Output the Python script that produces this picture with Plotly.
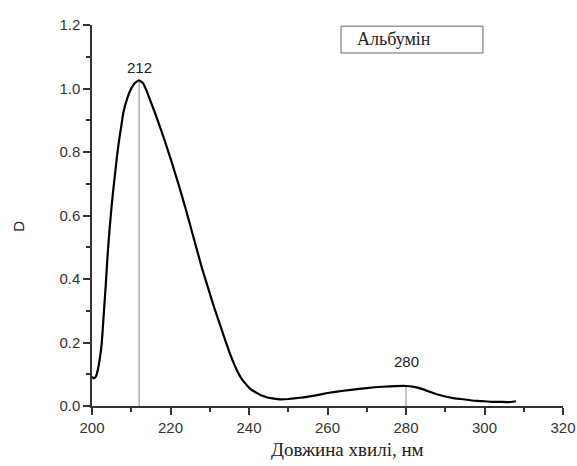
import numpy as np
import plotly.graph_objects as go

# Spectrum data (wavelength, nm ; optical density D)
wavelength = [200.0, 200.5, 201.0, 201.5, 202.0, 202.5, 203.0, 203.5, 204.0, 204.5,
              205.0, 205.5, 206.0, 206.5, 207.0, 207.5, 208.0, 209.0, 210.0, 211.0,
              212.0, 213.0, 214.0, 215.0, 216.0, 217.0, 218.0, 219.0, 220.0, 221.0,
              222.0, 223.0, 224.0, 225.0, 226.0, 227.0, 228.0, 229.0, 230.0, 231.0,
              232.0, 233.0, 234.0, 235.0, 236.0, 237.0, 238.0, 239.0, 240.0, 241.0,
              242.0, 243.0, 244.0, 245.0, 246.0, 248.0, 250.0, 253.0, 256.0, 260.0,
              264.0, 268.0, 272.0, 276.0, 280.0, 282.0, 284.0, 286.0, 288.0, 290.0,
              292.0, 294.0, 296.0, 298.0, 300.0, 302.0, 304.0, 306.0, 308.0]
density = [0.092, 0.087, 0.093, 0.115, 0.150, 0.200, 0.290, 0.380, 0.480, 0.560,
           0.630, 0.690, 0.745, 0.800, 0.845, 0.885, 0.925, 0.970, 1.000, 1.018,
           1.026, 1.017, 0.990, 0.957, 0.925, 0.890, 0.855, 0.818, 0.780, 0.740,
           0.700, 0.658, 0.615, 0.570, 0.525, 0.480, 0.435, 0.395, 0.355, 0.315,
           0.278, 0.242, 0.205, 0.170, 0.138, 0.110, 0.088, 0.072, 0.058, 0.048,
           0.041, 0.034, 0.030, 0.026, 0.024, 0.021, 0.022, 0.026, 0.031, 0.041,
           0.048, 0.054, 0.059, 0.062, 0.063, 0.060, 0.054, 0.045, 0.036, 0.030,
           0.025, 0.022, 0.019, 0.016, 0.015, 0.013, 0.013, 0.012, 0.015]

peak_wavelengths = [212, 280]
peak_label_y = [1.067, 0.139]
legend_label = "Альбумін"

x_title = "Довжина хвилі, нм"
y_title = "D"

fig = go.Figure()

# vertical peak markers from 0 to curve value
for pw in peak_wavelengths:
    pv = float(np.interp(pw, wavelength, density))
    fig.add_trace(go.Scatter(x=[pw, pw], y=[0, pv], mode="lines",
                             line=dict(color="#8a8a8a", width=1),
                             showlegend=False, hoverinfo="skip"))

fig.add_trace(go.Scatter(x=wavelength, y=density, mode="lines",
                         line=dict(color="black", width=2.2, shape="spline", smoothing=0.3),
                         name=legend_label, showlegend=False))

for pw, ly in zip(peak_wavelengths, peak_label_y):
    fig.add_annotation(x=pw, y=ly, text=str(pw), showarrow=False,
                       font=dict(family="Liberation Sans, Arial", size=15, color="#222"))

# legend box
fig.add_shape(type="rect", xref="paper", yref="paper",
              x0=0.5287, x1=0.830, y0=0.9265, y1=0.997,
              line=dict(color="#666", width=1), fillcolor="white")
fig.add_annotation(xref="paper", yref="paper", x=0.558, y=0.962, xanchor="left",
                   yanchor="middle", text=legend_label, showarrow=False,
                   font=dict(family="Liberation Serif, Times New Roman", size=18, color="#222"))

# axis titles
fig.add_annotation(xref="paper", yref="paper", x=0.5425, y=-0.115, text=x_title,
                   showarrow=False, xanchor="center", yanchor="middle",
                   font=dict(family="Liberation Serif, Times New Roman", size=19, color="#222"))
fig.add_annotation(xref="paper", yref="paper", x=-0.156, y=0.472, text=y_title,
                   showarrow=False, textangle=-90, xanchor="center", yanchor="middle",
                   font=dict(family="Liberation Sans, Arial", size=15, color="#222"))

axis_common = dict(showline=True, linecolor="#333", linewidth=1.5, showgrid=False,
                   zeroline=False, ticks="outside", ticklen=7, tickwidth=1.5,
                   tickcolor="#333", automargin=False,
                   tickfont=dict(family="Liberation Sans, Arial", size=15, color="#333"))

fig.update_xaxes(range=[200, 320], tick0=200, dtick=20,
                 minor=dict(ticks="outside", ticklen=4, tickwidth=1.5, tickcolor="#333", dtick=10),
                 **axis_common)
fig.update_yaxes(range=[0, 1.2], tick0=0, dtick=0.2, tickformat=".1f",
                 minor=dict(ticks="outside", ticklen=4, tickwidth=1.5, tickcolor="#333", dtick=0.1),
                 **axis_common)

fig.update_layout(width=577, height=466, margin=dict(l=92, r=14, t=25, b=60),
                  plot_bgcolor="white", paper_bgcolor="white", showlegend=False)

fig.write_html("out.html")
